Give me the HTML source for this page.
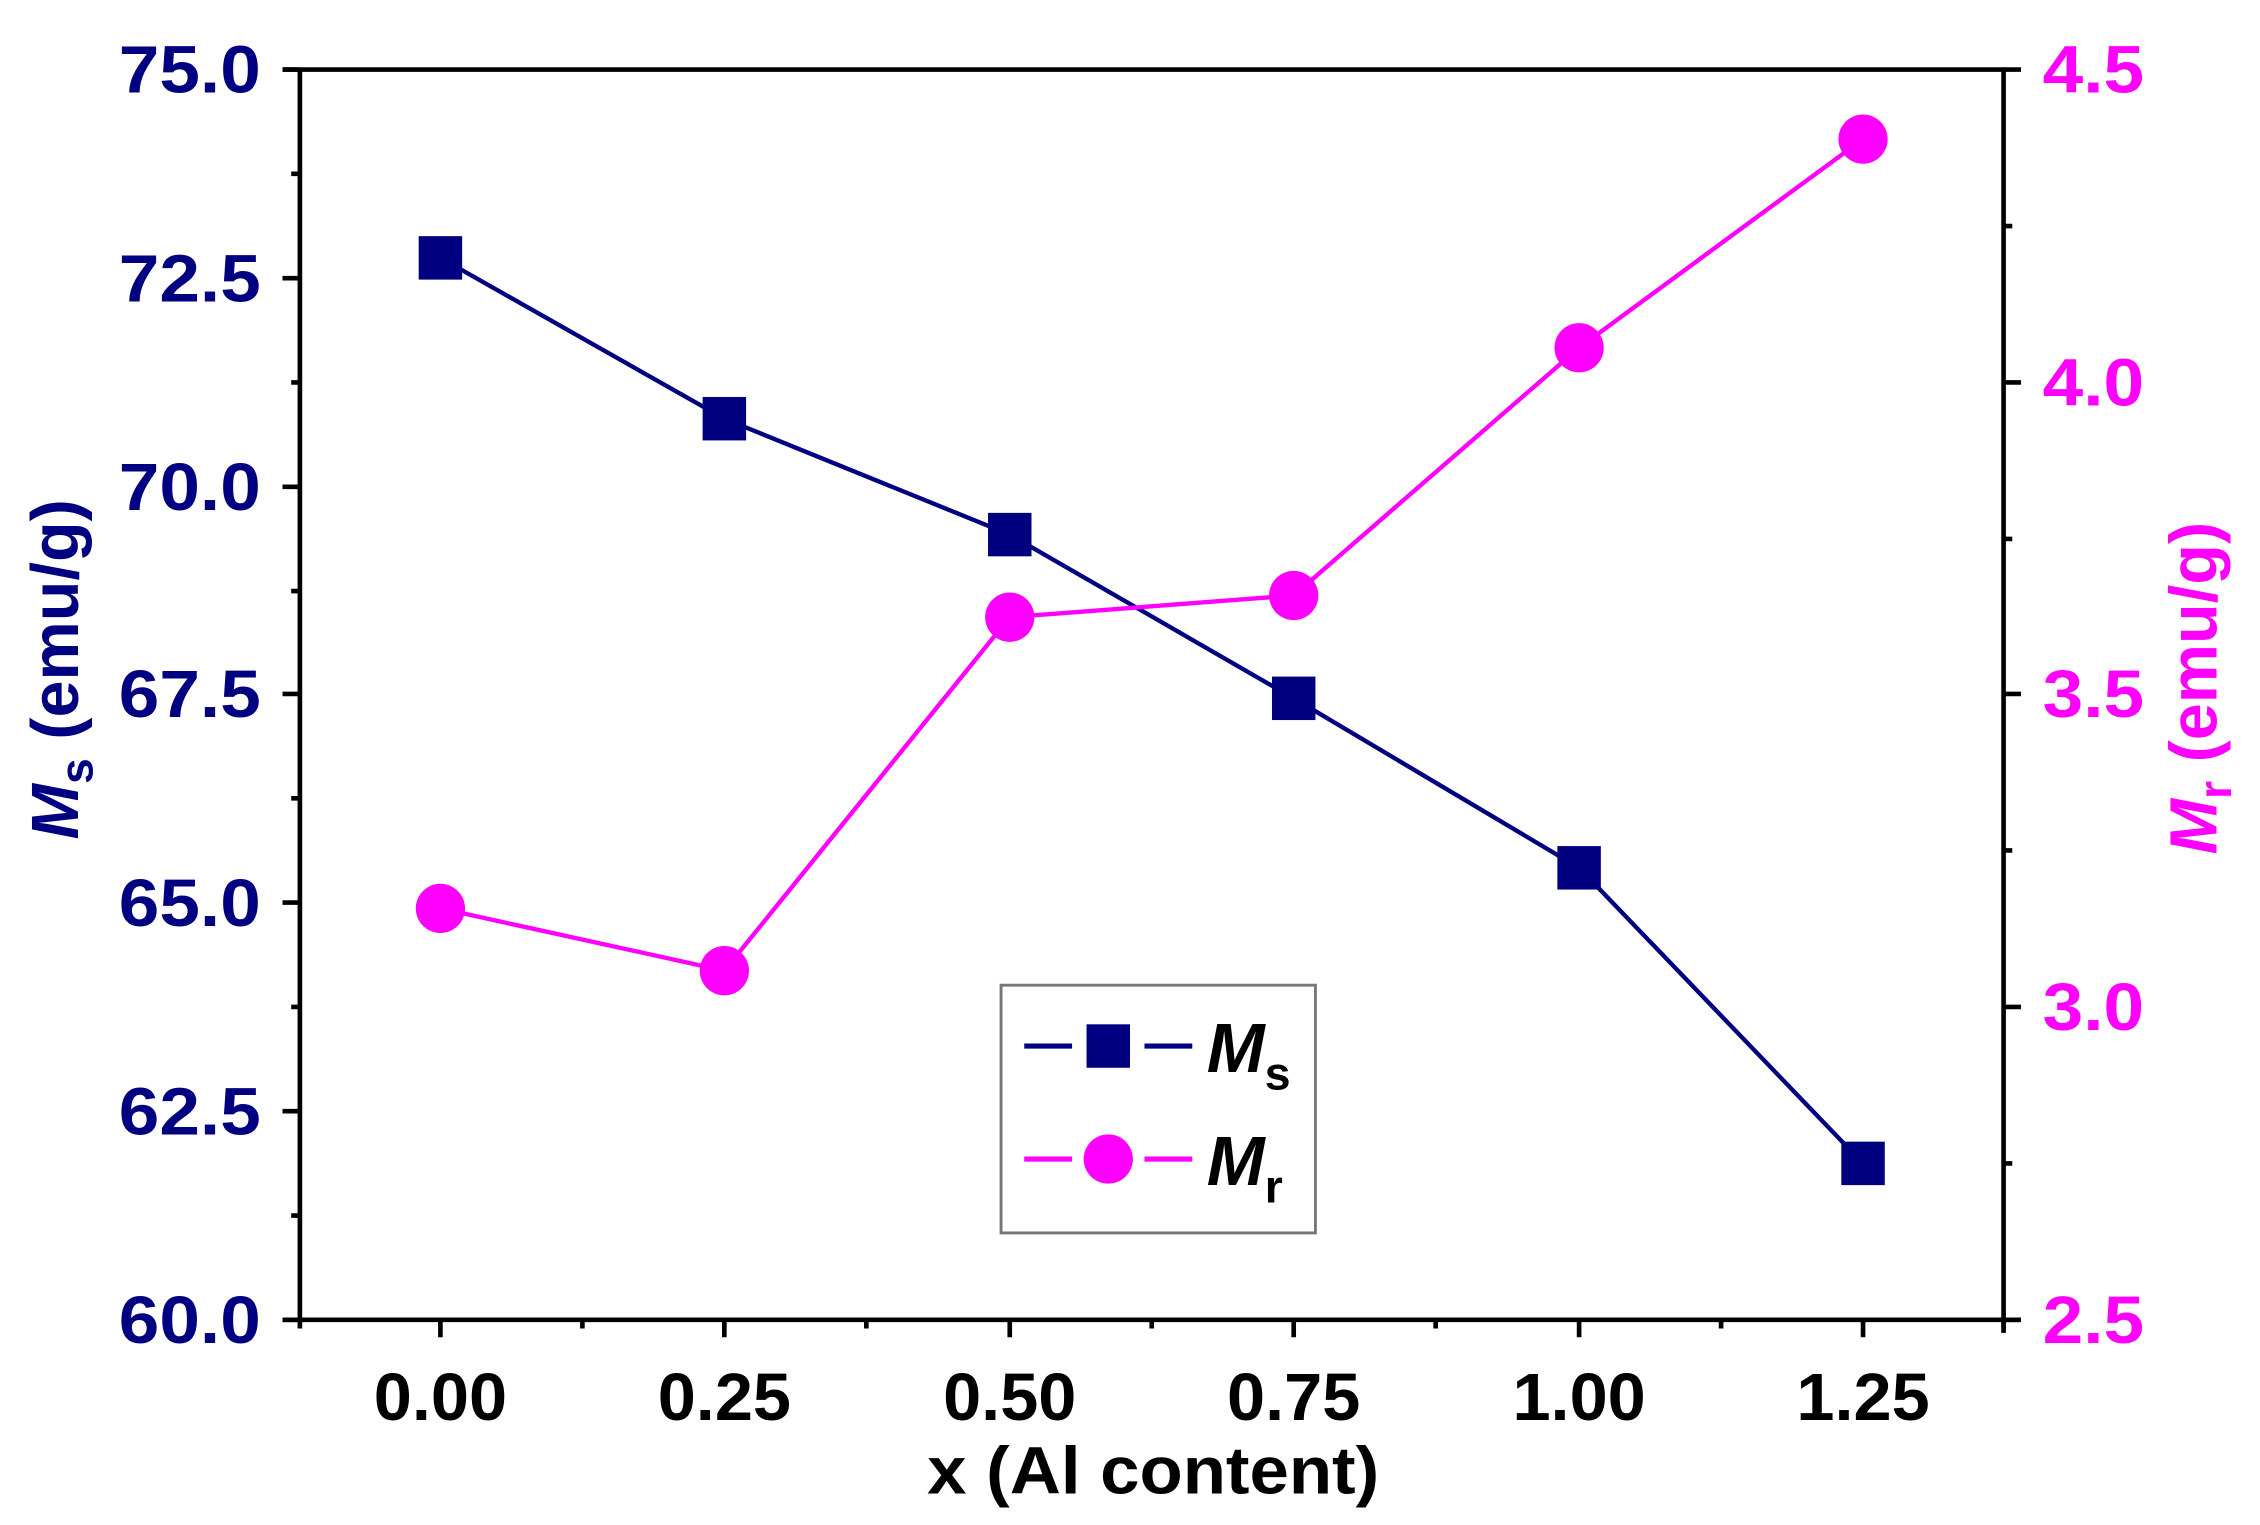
<!DOCTYPE html>
<html><head><meta charset="utf-8"><style>
html,body{margin:0;padding:0;background:#fff;}
svg{display:block;}
text{font-family:"Liberation Sans",Arial,sans-serif;font-weight:bold;}
</style></head><body>
<svg width="2260" height="1525" viewBox="0 0 1560 1052.6" preserveAspectRatio="none" xmlns="http://www.w3.org/2000/svg">
<rect width="1560" height="1053" fill="#fff"/>
<g stroke="#000" stroke-width="3.2" fill="none">
<line x1="195" y1="48" x2="1384" y2="48"/>
<line x1="207" y1="48" x2="207" y2="911"/>
<line x1="1383" y1="48" x2="1383" y2="920"/>
<line x1="195" y1="911" x2="1394" y2="911"/>
<path d="M195 48H207M195 192H207M195 336H207M195 479H207M195 623H207M195 767H207M195 911H207"/>
<path d="M201 120H207M201 264H207M201 408H207M201 551H207M201 695H207M201 839H207"/>
<path d="M1383 48H1395M1383 264H1395M1383 479H1395M1383 695H1395M1383 911H1395"/>
<path d="M1383 156H1389M1383 372H1389M1383 587H1389M1383 803H1389"/>
<path d="M304 911V923M500 911V923M697 911V923M893 911V923M1090 911V923M1286 911V923"/>
<path d="M207 911V917M402 911V917M598 911V917M795 911V917M991 911V917M1188 911V917M1383 911V917"/>
</g>
<g fill="#000080" font-size="46" text-anchor="end">
<text x="180" y="64" textLength="98" lengthAdjust="spacingAndGlyphs">75.0</text>
<text x="180" y="208" textLength="98" lengthAdjust="spacingAndGlyphs">72.5</text>
<text x="180" y="352" textLength="98" lengthAdjust="spacingAndGlyphs">70.0</text>
<text x="180" y="495" textLength="98" lengthAdjust="spacingAndGlyphs">67.5</text>
<text x="180" y="639" textLength="98" lengthAdjust="spacingAndGlyphs">65.0</text>
<text x="180" y="783" textLength="98" lengthAdjust="spacingAndGlyphs">62.5</text>
<text x="180" y="927" textLength="98" lengthAdjust="spacingAndGlyphs">60.0</text>
</g>
<g fill="#ff00ff" font-size="46">
<text x="1410" y="64" textLength="70" lengthAdjust="spacingAndGlyphs">4.5</text>
<text x="1410" y="280" textLength="70" lengthAdjust="spacingAndGlyphs">4.0</text>
<text x="1410" y="495" textLength="70" lengthAdjust="spacingAndGlyphs">3.5</text>
<text x="1410" y="711" textLength="70" lengthAdjust="spacingAndGlyphs">3.0</text>
<text x="1410" y="927" textLength="70" lengthAdjust="spacingAndGlyphs">2.5</text>
</g>
<g fill="#000" font-size="46" text-anchor="middle">
<text x="304" y="980" textLength="92" lengthAdjust="spacingAndGlyphs">0.00</text>
<text x="500" y="980" textLength="92" lengthAdjust="spacingAndGlyphs">0.25</text>
<text x="697" y="980" textLength="92" lengthAdjust="spacingAndGlyphs">0.50</text>
<text x="893" y="980" textLength="92" lengthAdjust="spacingAndGlyphs">0.75</text>
<text x="1090" y="980" textLength="92" lengthAdjust="spacingAndGlyphs">1.00</text>
<text x="1286" y="980" textLength="92" lengthAdjust="spacingAndGlyphs">1.25</text>
</g>
<text x="796" y="1031" font-size="46" text-anchor="middle" fill="#000" textLength="312" lengthAdjust="spacingAndGlyphs">x (Al content)</text>
<g transform="translate(54,462) rotate(-90)">
<text x="0" y="0" font-size="46" fill="#000080" text-anchor="middle"><tspan font-style="italic">M</tspan><tspan font-size="32" dy="10">s</tspan><tspan dy="-10"> (emu/g)</tspan></text>
</g>
<g transform="translate(1530,475) rotate(-90)">
<text x="0" y="0" font-size="46" fill="#ff00ff" text-anchor="middle"><tspan font-style="italic">M</tspan><tspan font-size="32" dy="10">r</tspan><tspan dy="-10"> (emu/g)</tspan></text>
</g>
<polyline fill="none" stroke="#000080" stroke-width="3" points="304,178 500,289 697,369 893,482 1090,599 1286,803"/>
<g fill="#000080">
<rect x="289" y="163" width="30" height="30"/>
<rect x="485" y="274" width="30" height="30"/>
<rect x="682" y="354" width="30" height="30"/>
<rect x="878" y="467" width="30" height="30"/>
<rect x="1075" y="584" width="30" height="30"/>
<rect x="1271" y="788" width="30" height="30"/>
</g>
<polyline fill="none" stroke="#ff00ff" stroke-width="3" points="304,627 500,670 697,426 893,411 1090,240 1286,96"/>
<g fill="#ff00ff">
<circle cx="304" cy="627" r="17"/>
<circle cx="500" cy="670" r="17"/>
<circle cx="697" cy="426" r="17"/>
<circle cx="893" cy="411" r="17"/>
<circle cx="1090" cy="240" r="17"/>
<circle cx="1286" cy="96" r="17"/>
</g>
<rect x="691" y="680" width="217" height="171" fill="#fff" stroke="#777" stroke-width="2"/>
<line x1="707" y1="722" x2="740" y2="722" stroke="#000080" stroke-width="3.5"/>
<line x1="790" y1="722" x2="823" y2="722" stroke="#000080" stroke-width="3.5"/>
<rect x="750" y="707" width="30" height="30" fill="#000080"/>
<line x1="707" y1="800" x2="740" y2="800" stroke="#ff00ff" stroke-width="3.5"/>
<line x1="790" y1="800" x2="823" y2="800" stroke="#ff00ff" stroke-width="3.5"/>
<circle cx="765" cy="800" r="17" fill="#ff00ff"/>
<text x="833" y="740" font-size="48" fill="#000"><tspan font-style="italic">M</tspan><tspan font-size="32" dy="12">s</tspan></text>
<text x="833" y="818" font-size="48" fill="#000"><tspan font-style="italic">M</tspan><tspan font-size="32" dy="12">r</tspan></text>
</svg>
</body></html>
